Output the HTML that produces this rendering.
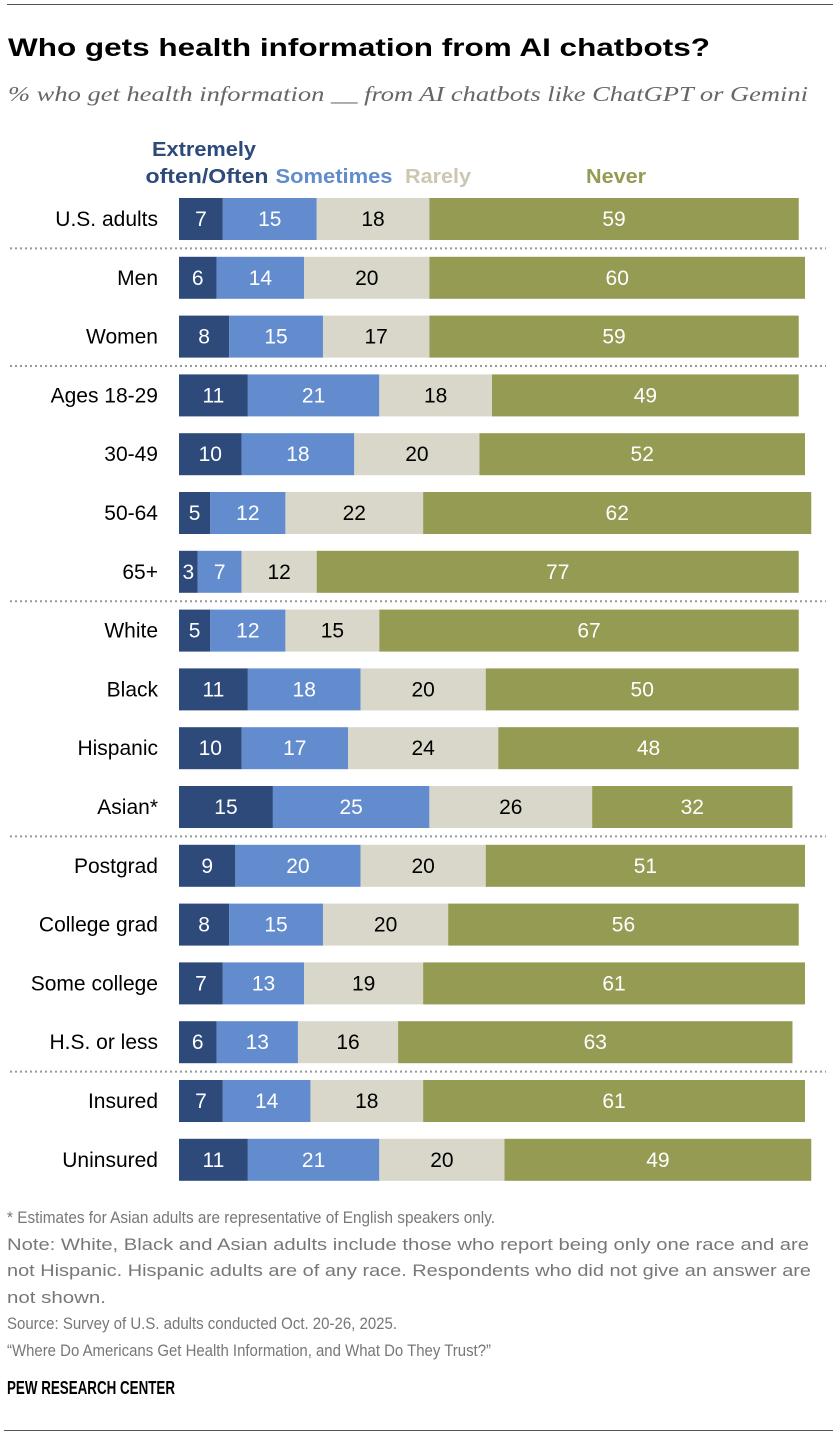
<!DOCTYPE html>
<html><head><meta charset="utf-8"><style>
body{margin:0;background:#fff;}
svg{display:block;font-family:"Liberation Sans",sans-serif;}
</style></head><body>
<svg id="chart" width="840" height="1438" viewBox="0 0 840 1438">
<line x1="7" y1="4.5" x2="833" y2="4.5" stroke="#555" stroke-width="1"/>
<text x="8" y="56" font-size="25" font-weight="bold" fill="#000" textLength="702" lengthAdjust="spacingAndGlyphs">Who gets health information from AI chatbots?</text>
<text x="8" y="101" font-size="21" font-style="italic" font-family="Liberation Serif, serif" fill="#666" textLength="800" lengthAdjust="spacingAndGlyphs">% who get health information __ from AI chatbots like ChatGPT or Gemini</text>
<g font-weight="bold" font-size="20">
<text x="204" y="156" text-anchor="middle" fill="#2d4a7a" textLength="104" lengthAdjust="spacingAndGlyphs">Extremely</text>
<text x="207" y="183" text-anchor="middle" fill="#2d4a7a" textLength="123" lengthAdjust="spacingAndGlyphs">often/Often</text>
<text x="334" y="183" text-anchor="middle" fill="#628ccd" textLength="117" lengthAdjust="spacingAndGlyphs">Sometimes</text>
<text x="438" y="183" text-anchor="middle" fill="#cbc7b1" textLength="66" lengthAdjust="spacingAndGlyphs">Rarely</text>
<text x="616" y="183" text-anchor="middle" fill="#959b53" textLength="60" lengthAdjust="spacingAndGlyphs">Never</text>
</g>
<g id="bars"></g>
<g font-size="17" fill="#777">
<text x="7" y="1223" textLength="488" lengthAdjust="spacingAndGlyphs">* Estimates for Asian adults are representative of English speakers only.</text>
<text x="7" y="1250" textLength="802" lengthAdjust="spacingAndGlyphs">Note: White, Black and Asian adults include those who report being only one race and are</text>
<text x="7" y="1276" textLength="804" lengthAdjust="spacingAndGlyphs">not Hispanic. Hispanic adults are of any race. Respondents who did not give an answer are</text>
<text x="7" y="1303" textLength="99" lengthAdjust="spacingAndGlyphs">not shown.</text>
<text x="7" y="1329" textLength="390" lengthAdjust="spacingAndGlyphs">Source: Survey of U.S. adults conducted Oct. 20-26, 2025.</text>
<text x="7" y="1356" textLength="484" lengthAdjust="spacingAndGlyphs">“Where Do Americans Get Health Information, and What Do They Trust?”</text>
</g>
<text x="7" y="1394" font-size="18" font-weight="bold" fill="#000" textLength="168" lengthAdjust="spacingAndGlyphs">PEW RESEARCH CENTER</text>
<line x1="4" y1="1430.5" x2="833" y2="1430.5" stroke="#555" stroke-width="1"/>
</svg>
<script>
const categories=["U.S. adults","Men","Women","Ages 18-29","30-49","50-64","65+","White","Black","Hispanic","Asian*","Postgrad","College grad","Some college","H.S. or less","Insured","Uninsured"];
const often=[7,6,8,11,10,5,3,5,11,10,15,9,8,7,6,7,11];
const sometimes=[15,14,15,21,18,12,7,12,18,17,25,20,15,13,13,14,21];
const rarely=[18,20,17,18,20,22,12,15,20,24,26,20,20,19,16,18,20];
const never=[59,60,59,49,52,62,77,67,50,48,32,51,56,61,63,61,49];
const separatorsAfter=[0,2,6,10,14];

const NS="http://www.w3.org/2000/svg";
const g=document.getElementById('bars');
const x0=179, unit=6.26, y0=219, step=58.8, bh=42;
const xScale=v=>x0+v*unit;
const yCenter=i=>y0+i*step;
const series=[{vals:often,fill:"#2d4a7a",tc:"#fff",n:"often"},{vals:sometimes,fill:"#628ccd",tc:"#fff",n:"sometimes"},{vals:rarely,fill:"#d9d7c9",tc:"#000",n:"rarely"},{vals:never,fill:"#959b53",tc:"#fff",n:"never"}];
function mk(t,a){const e=document.createElementNS(NS,t);for(const k in a)e.setAttribute(k,a[k]);return e;}
categories.forEach((c,i)=>{
  const cy=yCenter(i);
  const lab=mk('text',{x:158,y:cy+7,'text-anchor':'end','font-size':21,fill:'#000'});
  
  
  lab.textContent=c;g.appendChild(lab);
  let cum=0;
  series.forEach(s=>{
    const v=s.vals[i];
    const r=mk('rect',{x:xScale(cum),y:cy-bh/2,width:v*unit,height:bh,fill:s.fill});
    
    
    g.appendChild(r);
    const t=mk('text',{x:xScale(cum+v/2),y:cy+7,'text-anchor':'middle','font-size':21,fill:s.tc});
    
    
    t.textContent=v;g.appendChild(t);
    cum+=v;
  });
});
separatorsAfter.forEach(i=>{
  const y=yCenter(i)+step/2;
  const l=mk('line',{x1:10,x2:826,y1:y,y2:y,stroke:'#999','stroke-width':2,'stroke-dasharray':'2 3'});
  
  
  g.appendChild(l);
});
</script>
</body></html>
